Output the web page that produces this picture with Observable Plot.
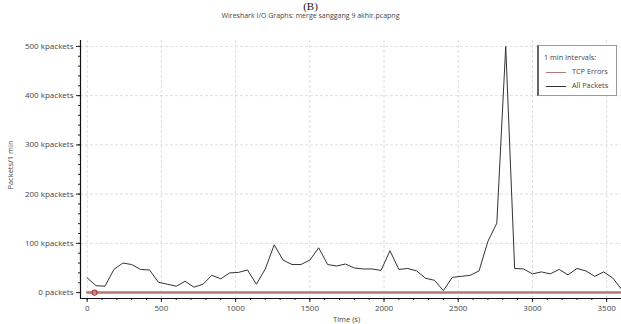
<!DOCTYPE html>
<html>
<head>
<meta charset="utf-8">
<script src="https://cdn.jsdelivr.net/npm/d3@7"></script>
<script src="https://cdn.jsdelivr.net/npm/@observablehq/plot@0.6"></script>
<style>
  html, body { margin: 0; padding: 0; background: #fff; }
  #wrap { position: relative; width: 621px; height: 324px; overflow: hidden; font-family: "Open Sans", "DejaVu Sans", sans-serif; }
  #wrap svg { position: absolute; left: 0; top: 0; }
  .panel { position: absolute; left: 0; width: 621px; text-align: center; }
  #panel-letter { top: 0px; font-family: "Liberation Serif", "DejaVu Serif", serif; font-size: 11px; line-height: 12px; color: #111; }
  #title { top: 11px; font-size: 7px; color: #444; }
  #ylabel { position: absolute; left: 10px; top: 165px; transform: translate(-50%, -50%) rotate(-90deg); font-size: 7.5px; color: #444; white-space: nowrap; }
  #xlabel { position: absolute; left: 333px; top: 314px; font-size: 7.5px; color: #444; }
  #legend { position: absolute; left: 537px; top: 45px; width: 80px; height: 51px; border: 1px solid #9a9a9a; border-left: 2px solid #666; background: #fff; font-size: 7.3px; color: #444; box-sizing: border-box; }
  #legend .row { position: absolute; left: 5px; white-space: nowrap; }
  #legend .sw { display: inline-block; width: 20px; height: 0; border-top: 1px solid; vertical-align: middle; margin-right: 6px; margin-left: 2px; }
</style>
</head>
<body>
<div id="wrap">
  <div id="plot"></div>
  <div class="panel" id="panel-letter">(B)</div>
  <div class="panel" id="title">Wireshark I/O Graphs: merge sanggang 9 akhir.pcapng</div>
  <div id="ylabel">Packets/1 min</div>
  <div id="xlabel">Time (s)</div>
  <div id="legend">
    <div class="row" style="top:6px">1 min Intervals:</div>
    <div class="row" style="top:20px"><span class="sw" style="border-color:#b07a7a"></span>TCP Errors</div>
    <div class="row" style="top:34px"><span class="sw" style="border-color:#333"></span>All Packets</div>
  </div>
</div>
<script>
// Interval start times (s), one-minute buckets
const times = [
  0, 60, 120, 180, 240, 300, 360, 420, 480, 540,
  600, 660, 720, 780, 840, 900, 960, 1020, 1080, 1140,
  1200, 1260, 1320, 1380, 1440, 1500, 1560, 1620, 1680, 1740,
  1800, 1860, 1920, 1980, 2040, 2100, 2160, 2220, 2280, 2340,
  2400, 2460, 2520, 2580, 2640, 2700, 2760, 2820, 2880, 2940,
  3000, 3060, 3120, 3180, 3240, 3300, 3360, 3420, 3480, 3540,
  3600
];
// All packets per interval (kpackets)
const allPackets = [
  30, 14, 13, 47, 60, 57, 47, 46, 21, 17,
  13, 23, 11, 17, 35, 28, 40, 41, 46, 17,
  48, 97, 66, 57, 57, 66, 91, 57, 54, 58,
  50, 48, 48, 45, 85, 47, 49, 44, 29, 25,
  4, 31, 33, 35, 44, 104, 141, 500, 49, 48,
  38, 42, 38, 47, 36, 49, 44, 33, 42, 30,
  7
];
// TCP errors per interval (kpackets)
const tcpErrors = times.map(() => 0);
// Flagged TCP error event
const tcpEventTimes = [50];
const tcpEventValues = [0];

// Axis ticks
const xTicks = [0, 500, 1000, 1500, 2000, 2500, 3000, 3500];
const xMinorTicks = d3.range(0, 3601, 100);
const yTicks = [0, 100, 200, 300, 400, 500];
const yMinorTicks = d3.range(0, 501, 20);

const allData = times.map((t, i) => ({t, v: allPackets[i]}));
const tcpData = times.map((t, i) => ({t, v: tcpErrors[i]}));
const tcpEvents = tcpEventTimes.map((t, i) => ({t, v: tcpEventValues[i]}));

const xDomain = [-45, 3600];
const yDomain = [-12, 512];

const chart = Plot.plot({
  width: 621,
  height: 324,
  marginLeft: 80,
  marginRight: 0,
  marginTop: 40,
  marginBottom: 26,
  style: {fontFamily: "'Open Sans', 'DejaVu Sans', sans-serif", fontSize: "8px", color: "#444", background: "transparent"},
  x: {domain: xDomain, axis: null, label: null},
  y: {domain: yDomain, axis: null, label: null},
  marks: [
    Plot.gridX(xTicks, {stroke: "#dedede", strokeOpacity: 1, strokeDasharray: "3,2"}),
    Plot.gridY(yTicks.filter(d => d > 0), {stroke: "#dedede", strokeOpacity: 1, strokeDasharray: "3,2"}),
    Plot.axisY(yMinorTicks, {tickSize: 2, tickFormat: () => "", stroke: "#222", label: null}),
    Plot.axisY(yTicks, {tickSize: 4, tickPadding: 3, stroke: "#222", fill: "#444", label: null,
      tickFormat: d => d === 0 ? "0 packets" : `${d} kpackets`}),
    Plot.axisX(xMinorTicks, {tickSize: 2, tickFormat: () => "", stroke: "#222", label: null}),
    Plot.axisX(xTicks, {tickSize: 4, tickPadding: 3, stroke: "#222", fill: "#444", label: null,
      tickFormat: d => String(d)}),
    Plot.ruleX([xDomain[0]], {stroke: "#111", strokeWidth: 1.2}),
    Plot.ruleY([yDomain[0]], {stroke: "#111", strokeWidth: 1.2}),
    Plot.line(tcpData, {x: "t", y: "v", stroke: "#b07a7a", strokeWidth: 2.5}),
    Plot.dot(tcpEvents, {x: "t", y: "v", r: 2.5, stroke: "#b04040", strokeWidth: 1.2, fill: "none"}),
    Plot.line(allData, {x: "t", y: "v", stroke: "#333", strokeWidth: 1})
  ]
});
document.getElementById("plot").appendChild(chart);
</script>
</body>
</html>
